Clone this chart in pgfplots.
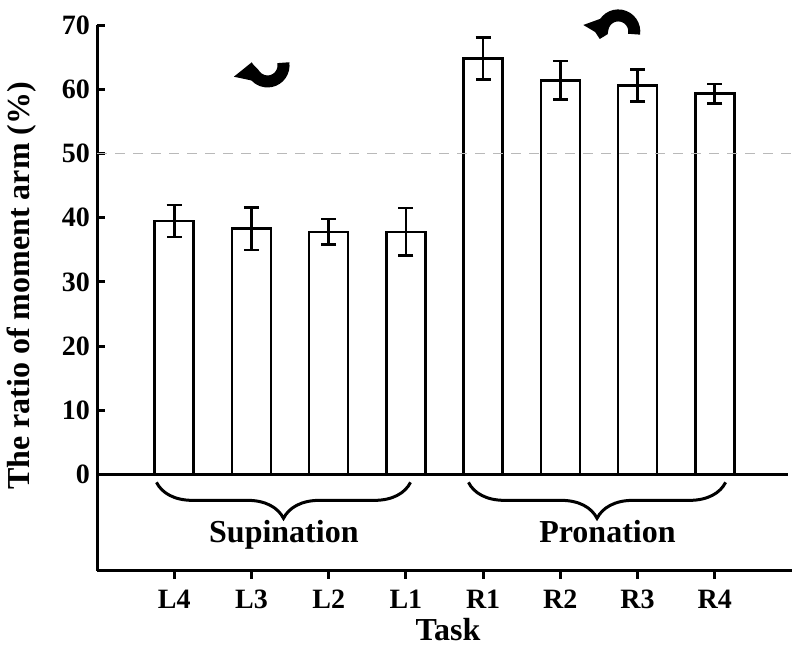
\documentclass[border=0pt]{standalone}
\usepackage{fontspec}
\setmainfont{Liberation Serif}
\usepackage{pgfplots}
\usepackage{pgfplotstable}
\pgfplotsset{compat=1.18}
\usetikzlibrary{arrows.meta,decorations.pathreplacing}
\pgfplotstableread{
x y e
1 39.5 2.5
2 38.3 3.3
3 37.8 2.0
4 37.8 3.7
5 64.8 3.3
6 61.4 3.0
7 60.6 2.5
8 59.3 1.5
}\ratios
\begin{document}
\begin{tikzpicture}
\begin{axis}[
  scale only axis, width=347.5pt, height=273pt,
  xmin=0, xmax=9, ymin=-15, ymax=70,
  axis lines=left, axis line style={-, line width=1.5pt},
  ytick={0,10,...,70}, xtick={1,...,8},
  xticklabels={L4,L3,L2,L1,R1,R2,R3,R4},
  tick align=inside, major tick length=4pt,
  tick style={line width=1.5pt, black},
  ticklabel style={font=\fontsize{14}{16}\selectfont\bfseries},
  xticklabel style={yshift=-2pt},
  /pgf/number format/assume math mode=true,
  xlabel={Task}, ylabel={The ratio of moment arm (\%)},
  label style={font=\fontsize{16}{19}\selectfont\bfseries},
  xlabel style={at={(rel axis cs:0.505,-0.108)}, anchor=center},
  ylabel style={at={(rel axis cs:-0.108,0.522)}, anchor=center},
  ybar, bar width=19.5pt,
  clip=false,
]
\addplot[draw=black, fill=white, line width=1.3pt,
  error bars/.cd, y dir=both, y explicit,
  error bar style={line width=1.3pt, black},
  error mark options={rotate=90, mark size=3.75pt, line width=1.3pt, black}]
  table[x=x, y=y, y error=e]{\ratios};
\draw[gray!55, line width=0.5pt, dash pattern=on 5pt off 4pt] (axis cs:0,50) -- (axis cs:9,50);
\draw[line width=1.5pt] (axis cs:0,0) -- (axis cs:8.95,0);
% braces
\draw[line width=1.5pt, decorate, decoration={brace, mirror, amplitude=18pt}]
  (axis cs:0.77,-1.2) -- (axis cs:4.06,-1.2);
\draw[line width=1.5pt, decorate, decoration={brace, mirror, amplitude=18pt}]
  (axis cs:4.81,-1.2) -- (axis cs:8.14,-1.2);
\node[font=\fontsize{16}{19}\selectfont\bfseries, anchor=base] at (axis cs:2.42,-10.6) {Supination};
\node[font=\fontsize{16}{19}\selectfont\bfseries, anchor=base] at (axis cs:6.61,-10.6) {Pronation};
% rotation arrows
\draw[line width=6pt, -{Triangle[length=9pt,width=14pt]}]
  (axis cs:2.208,63.7) ++(10:8pt) arc[start angle=10, end angle=-192, radius=8pt];
\draw[line width=6pt, -{Triangle[length=9pt,width=14pt]}]
  (axis cs:6.75,69.0) ++(-10:8pt) arc[start angle=-10, end angle=200, radius=8pt];
\coordinate (bbsw) at (rel axis cs:-0.1396,-0.141);
\coordinate (bbne) at (rel axis cs:1.0115,1.0458);
\end{axis}
\path (bbsw) rectangle (bbne);
\end{tikzpicture}
\end{document}
